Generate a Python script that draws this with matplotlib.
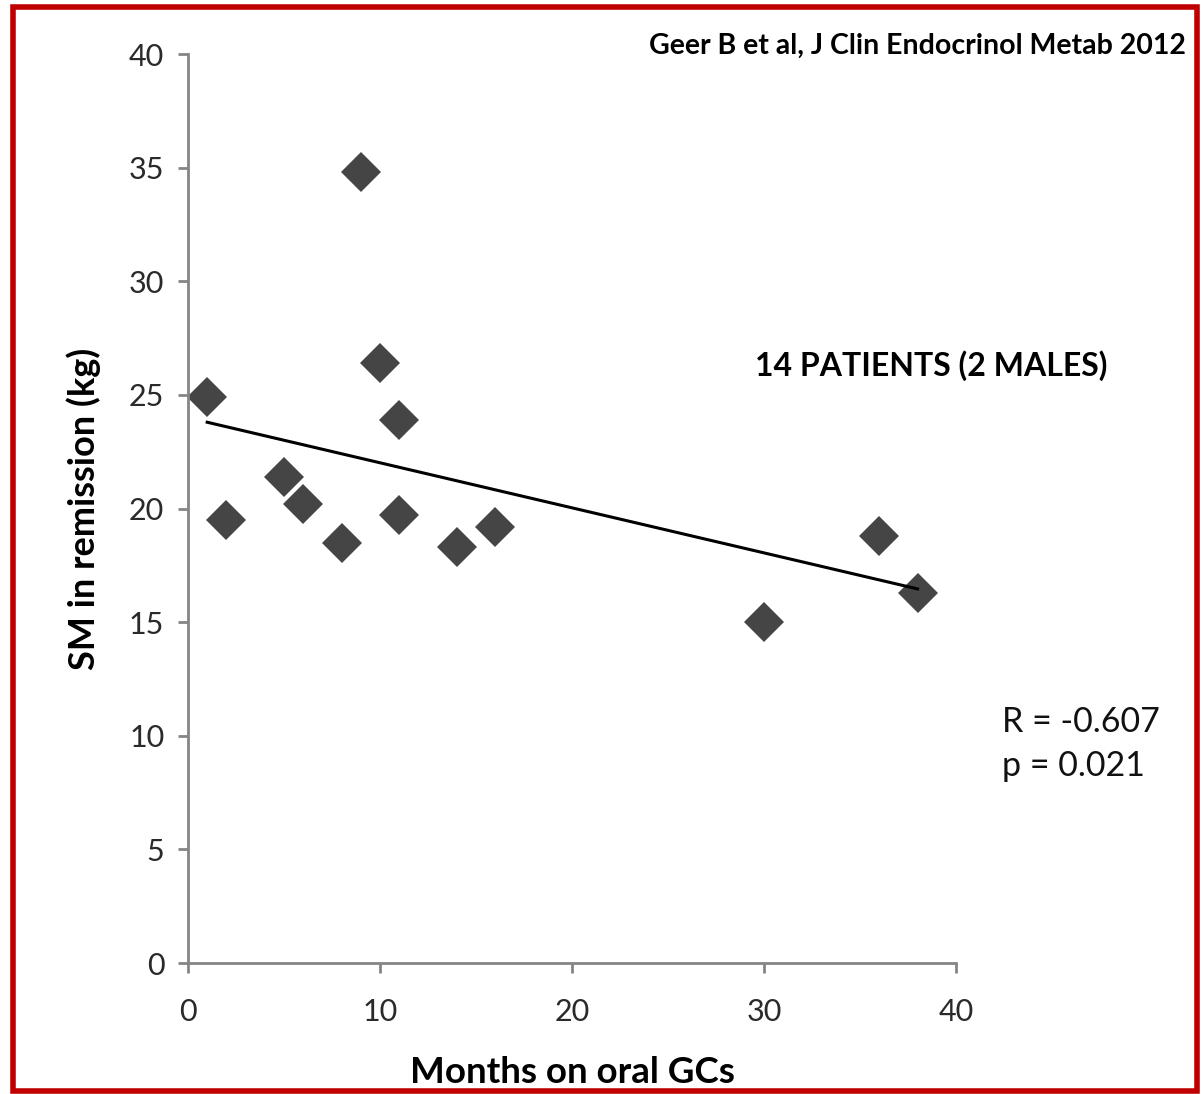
import matplotlib
matplotlib.use("Agg")
import matplotlib.pyplot as plt
from matplotlib.patches import Rectangle
import numpy as np

# months on oral glucocorticoids vs. skeletal muscle in remission
months = [1, 2, 5, 6, 8, 9, 10, 11, 11, 14, 16, 30, 36, 38]
sm_kg = [24.9, 19.5, 21.4, 20.2, 18.5, 34.8, 26.4, 23.9, 19.7, 18.3, 19.2, 15.0, 18.8, 16.3]

x_ticks = [0, 10, 20, 30, 40]
y_ticks = [0, 5, 10, 15, 20, 25, 30, 35, 40]

plt.rcParams['font.family'] = ['Lato', 'DejaVu Sans']

fig = plt.figure(figsize=(12.01, 10.94), dpi=100)
ax = fig.add_axes([0.1565, 0.1197, 0.6395, 0.8309])

ax.plot(months, sm_kg, linestyle='none', marker='D', markersize=20,
        color='#454545', markeredgewidth=0, zorder=2)

# least-squares trend line over the observed range
slope, intercept = np.polyfit(months, sm_kg, 1)
xs = np.array([min(months), max(months)])
ax.plot(xs, slope * xs + intercept, color='black', linewidth=2.2, zorder=3)

ax.set_xlim(0, 40)
ax.set_ylim(0, 40)
ax.set_xticks(x_ticks)
ax.set_yticks(y_ticks)

for side in ['top', 'right']:
    ax.spines[side].set_visible(False)
for side in ['left', 'bottom']:
    ax.spines[side].set_color('#858585')
    ax.spines[side].set_linewidth(2)
ax.tick_params(axis='both', direction='out', length=7, width=2, color='#858585',
               labelsize=22, labelcolor='#2a2a2a')
ax.tick_params(axis='x', pad=18)
ax.tick_params(axis='y', pad=10)

ax.set_xlabel('Months on oral GCs', fontsize=26.5, fontweight='bold', labelpad=22)
ax.set_ylabel('SM in remission (kg)', fontsize=26, fontweight='bold', labelpad=20)

fig.text(0.987, 0.958, 'Geer B et al, J Clin Endocrinol Metab 2012', fontsize=20.5,
         fontweight='bold', ha='right', va='center')
fig.text(0.7755, 0.666, '14 PATIENTS (2 MALES)', fontsize=23, fontweight='bold',
         ha='center', va='center')
fig.text(0.834, 0.320, 'R = -0.607\np = 0.021', fontsize=24.5, ha='left', va='center',
         linespacing=1.45, color='#111111')

# dark red frame around the whole figure
fig.patches.append(Rectangle((0.011, 0.003), 0.986, 0.991, transform=fig.transFigure,
                             fill=False, edgecolor='#c00000', linewidth=4))

fig.savefig('out.png', dpi=100)
